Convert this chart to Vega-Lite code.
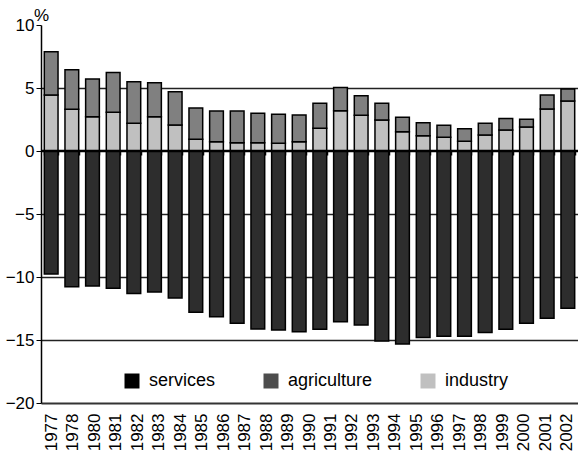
{
  "$schema": "https://vega.github.io/schema/vega-lite/v6.json",
  "autosize": {"type": "none"},
  "padding": {"left": 41, "top": 25, "right": 0, "bottom": 56},
  "width": 537,
  "height": 378,
  "config": {"font": "Liberation Sans", "view": {"stroke": null}},
  "datasets": {
    "bars": [
      {"year": "1977", "sector": "industry", "value": 4.44}, {"year": "1977", "sector": "agriculture", "value": 3.44}, {"year": "1977", "sector": "services", "value": -9.76},
      {"year": "1978", "sector": "industry", "value": 3.31}, {"year": "1978", "sector": "agriculture", "value": 3.14}, {"year": "1978", "sector": "services", "value": -10.77},
      {"year": "1979", "sector": "industry", "value": 2.72}, {"year": "1979", "sector": "agriculture", "value": 2.99}, {"year": "1979", "sector": "services", "value": -10.71},
      {"year": "1980", "sector": "industry", "value": 3.07}, {"year": "1980", "sector": "agriculture", "value": 3.17}, {"year": "1980", "sector": "services", "value": -10.9},
      {"year": "1981", "sector": "industry", "value": 2.2}, {"year": "1981", "sector": "agriculture", "value": 3.3}, {"year": "1981", "sector": "services", "value": -11.3},
      {"year": "1982", "sector": "industry", "value": 2.72}, {"year": "1982", "sector": "agriculture", "value": 2.7}, {"year": "1982", "sector": "services", "value": -11.19},
      {"year": "1983", "sector": "industry", "value": 2.06}, {"year": "1983", "sector": "agriculture", "value": 2.65}, {"year": "1983", "sector": "services", "value": -11.67},
      {"year": "1984", "sector": "industry", "value": 0.93}, {"year": "1984", "sector": "agriculture", "value": 2.48}, {"year": "1984", "sector": "services", "value": -12.8},
      {"year": "1985", "sector": "industry", "value": 0.74}, {"year": "1985", "sector": "agriculture", "value": 2.43}, {"year": "1985", "sector": "services", "value": -13.15},
      {"year": "1986", "sector": "industry", "value": 0.66}, {"year": "1986", "sector": "agriculture", "value": 2.51}, {"year": "1986", "sector": "services", "value": -13.68},
      {"year": "1987", "sector": "industry", "value": 0.66}, {"year": "1987", "sector": "agriculture", "value": 2.33}, {"year": "1987", "sector": "services", "value": -14.13},
      {"year": "1988", "sector": "industry", "value": 0.61}, {"year": "1988", "sector": "agriculture", "value": 2.3}, {"year": "1988", "sector": "services", "value": -14.2},
      {"year": "1989", "sector": "industry", "value": 0.74}, {"year": "1989", "sector": "agriculture", "value": 2.12}, {"year": "1989", "sector": "services", "value": -14.34},
      {"year": "1990", "sector": "industry", "value": 1.8}, {"year": "1990", "sector": "agriculture", "value": 1.98}, {"year": "1990", "sector": "services", "value": -14.15},
      {"year": "1991", "sector": "industry", "value": 3.2}, {"year": "1991", "sector": "agriculture", "value": 1.83}, {"year": "1991", "sector": "services", "value": -13.55},
      {"year": "1992", "sector": "industry", "value": 2.83}, {"year": "1992", "sector": "agriculture", "value": 1.56}, {"year": "1992", "sector": "services", "value": -13.8},
      {"year": "1993", "sector": "industry", "value": 2.46}, {"year": "1993", "sector": "agriculture", "value": 1.32}, {"year": "1993", "sector": "services", "value": -15.08},
      {"year": "1994", "sector": "industry", "value": 1.53}, {"year": "1994", "sector": "agriculture", "value": 1.14}, {"year": "1994", "sector": "services", "value": -15.32},
      {"year": "1995", "sector": "industry", "value": 1.22}, {"year": "1995", "sector": "agriculture", "value": 1.03}, {"year": "1995", "sector": "services", "value": -14.8},
      {"year": "1996", "sector": "industry", "value": 1.09}, {"year": "1996", "sector": "agriculture", "value": 0.95}, {"year": "1996", "sector": "services", "value": -14.7},
      {"year": "1997", "sector": "industry", "value": 0.77}, {"year": "1997", "sector": "agriculture", "value": 1.0}, {"year": "1997", "sector": "services", "value": -14.7},
      {"year": "1998", "sector": "industry", "value": 1.27}, {"year": "1998", "sector": "agriculture", "value": 0.93}, {"year": "1998", "sector": "services", "value": -14.4},
      {"year": "1999", "sector": "industry", "value": 1.67}, {"year": "1999", "sector": "agriculture", "value": 0.9}, {"year": "1999", "sector": "services", "value": -14.15},
      {"year": "2000", "sector": "industry", "value": 1.9}, {"year": "2000", "sector": "agriculture", "value": 0.61}, {"year": "2000", "sector": "services", "value": -13.68},
      {"year": "2001", "sector": "industry", "value": 3.33}, {"year": "2001", "sector": "agriculture", "value": 1.11}, {"year": "2001", "sector": "services", "value": -13.28},
      {"year": "2002", "sector": "industry", "value": 3.97}, {"year": "2002", "sector": "agriculture", "value": 0.95}, {"year": "2002", "sector": "services", "value": -12.48}
    ],
    "labels": [
      {"label": "1977"}, {"label": "1978"}, {"label": "1980"}, {"label": "1981"}, {"label": "1982"},
      {"label": "1983"}, {"label": "1984"}, {"label": "1985"}, {"label": "1986"}, {"label": "1987"},
      {"label": "1988"}, {"label": "1989"}, {"label": "1990"}, {"label": "1991"}, {"label": "1992"},
      {"label": "1993"}, {"label": "1994"}, {"label": "1995"}, {"label": "1996"}, {"label": "1997"},
      {"label": "1998"}, {"label": "1999"}, {"label": "2000"}, {"label": "2001"}, {"label": "2002"}
    ],
    "legend": [{"key": "services"}, {"key": "agriculture"}, {"key": "industry"}],
    "zero": [{"v": 0}]
  },
  "layer": [
    {
      "data": {"name": "bars"},
      "mark": {"type": "bar", "stroke": "#000000", "strokeWidth": 1.5},
      "encoding": {
        "x": {
          "field": "year", "type": "nominal", "scale": {"paddingInner": 0.336, "paddingOuter": 0.16},
          "axis": {"orient": "bottom", "offset": -252, "title": null, "labels": false, "domain": false, "grid": false,
                   "ticks": true, "tickBand": "extent", "tickSize": 4, "tickColor": "#000000", "tickWidth": 1.5}
        },
        "y": {
          "field": "value", "type": "quantitative", "stack": "zero",
          "scale": {"domain": [-20, 10], "nice": false, "zero": false},
          "axis": {
            "values": [-20, -15, -10, -5, 0, 5, 10],
            "title": "%", "titleAngle": 0, "titleX": 0, "titleY": -5, "titleAlign": "center", "titleBaseline": "alphabetic",
            "titleFontSize": 17, "titleFontWeight": "normal", "titleColor": "#000000",
            "labelFontSize": 17, "labelColor": "#000000", "labelPadding": 2,
            "tickSize": 5, "tickColor": "#000000", "tickWidth": 1,
            "domainColor": "#000000", "domainWidth": 1.5,
            "grid": true, "gridColor": "#222222", "gridWidth": 1.5,
            "gridOpacity": {"condition": {"test": "datum.value === 10 || datum.value === 0 || datum.value === -20", "value": 0}, "value": 1}
          }
        },
        "color": {
          "field": "sector", "type": "nominal",
          "scale": {"domain": ["services", "agriculture", "industry"], "range": ["#2d2d2d", "#808080", "#c0c0c0"]},
          "legend": null
        },
        "order": {"field": "sector", "sort": "descending"}
      }
    },
    {
      "data": {"name": "legend"},
      "mark": {"type": "square", "opacity": 0, "size": 225},
      "encoding": {
        "color": {
          "field": "key", "type": "nominal",
          "scale": {"domain": ["services", "agriculture", "industry"], "range": ["#000000", "#4d4d4d", "#c0c0c0"]},
          "legend": {
            "title": null, "orient": "none", "legendX": 82, "legendY": 347, "direction": "horizontal",
            "symbolType": "square", "symbolSize": 225, "symbolStrokeWidth": 0, "symbolOpacity": 1,
            "labelFontSize": 18, "labelColor": "#000000", "labelOffset": 8, "columnPadding": 46, "padding": 0
          }
        }
      }
    },
    {
      "data": {"name": "labels"},
      "mark": {"type": "point", "opacity": 0},
      "encoding": {
        "x": {
          "field": "label", "type": "nominal", "scale": {"type": "band", "paddingInner": 0, "paddingOuter": 0},
          "axis": {
            "orient": "bottom", "title": null, "labelAngle": -90, "labelFontSize": 17, "labelColor": "#000000",
            "labelPadding": 10, "ticks": false, "domain": true, "domainColor": "#333333", "domainWidth": 2
          }
        }
      }
    },
    {
      "data": {"name": "zero"},
      "mark": {"type": "rule", "color": "#000000", "strokeWidth": 2.5},
      "encoding": {"y": {"field": "v", "type": "quantitative"}}
    }
  ],
  "resolve": {"scale": {"x": "independent", "color": "independent"}, "axis": {"x": "independent"}}
}
